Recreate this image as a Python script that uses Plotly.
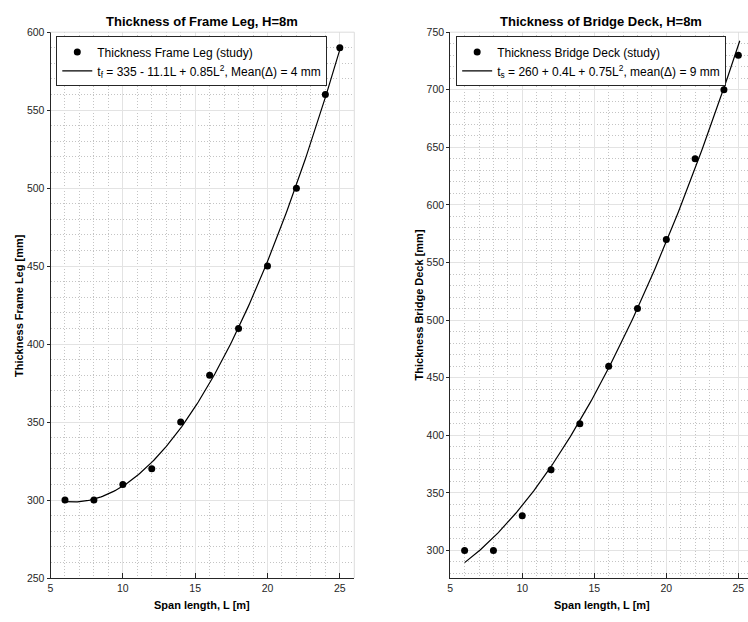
import numpy as np
import plotly.graph_objects as go

# Study results: span length vs. member thickness (H = 8 m)
span_L = [6, 8, 10, 12, 14, 16, 18, 20, 22, 24, 25]
leg_thickness = [300, 300, 310, 320, 350, 380, 410, 450, 500, 560, 590]
deck_thickness = [300, 300, 330, 370, 410, 460, 510, 570, 640, 700, 730]

# Quadratic fits t = c0 + c1*L + c2*L^2
leg_coef = [335, -11.1, 0.85]
deck_coef = [260, 0.4, 0.75]
fit_span = [6, 25.1]

leg_name_pts = "Thickness Frame Leg (study)"
leg_name_fit = "t<sub>f</sub> = 335 - 11.1L + 0.85L<sup>2</sup>, Mean(\u0394) = 4 mm"
deck_name_pts = "Thickness Bridge Deck (study)"
deck_name_fit = "t<sub>s</sub> = 260 + 0.4L + 0.75L<sup>2</sup>, mean(\u0394) = 9 mm"

W, H = 748, 622
FONT = "Liberation Sans, Arial, Helvetica, sans-serif"
AX = "#262626"


def px_x(p):
    return p / W


def px_y(p):
    return (H - p) / H


def fit_curve(coef):
    L = np.linspace(fit_span[0], fit_span[1], 200)
    return L, coef[0] + coef[1] * L + coef[2] * L ** 2


fig = go.Figure()

L1, t1 = fit_curve(leg_coef)
fig.add_trace(go.Scatter(x=span_L, y=leg_thickness, mode="markers", name=leg_name_pts,
                         marker=dict(color="black", size=7), xaxis="x", yaxis="y", legend="legend"))
fig.add_trace(go.Scatter(x=L1, y=t1, mode="lines", name=leg_name_fit,
                         line=dict(color="black", width=1.2), xaxis="x", yaxis="y", legend="legend"))

L2, t2 = fit_curve(deck_coef)
fig.add_trace(go.Scatter(x=span_L, y=deck_thickness, mode="markers", name=deck_name_pts,
                         marker=dict(color="black", size=7), xaxis="x2", yaxis="y2", legend="legend2"))
fig.add_trace(go.Scatter(x=L2, y=t2, mode="lines", name=deck_name_fit,
                         line=dict(color="black", width=1.2), xaxis="x2", yaxis="y2", legend="legend2"))

ydom = [px_y(583.3), px_y(26.7)]
x1dom = [px_x(47.7), px_x(352.7)]
x2dom = [px_x(449.0), 1.0]

minor_grid = dict(showgrid=True, gridcolor="#c4c4c4", griddash="1px,2px", gridwidth=1, ticks="")


def xaxis(dom, rng, anchor):
    return dict(domain=dom, range=rng, anchor=anchor, dtick=5, tick0=5,
                showline=True, linecolor=AX, linewidth=1, ticks="inside", ticklen=5,
                tickcolor=AX, showgrid=True, gridcolor="#e3e3e3", gridwidth=1,
                minor=dict(dtick=1, tick0=0, **minor_grid), zeroline=False,
                tickfont=dict(family=FONT, size=10.5, color=AX))


def yaxis(rng, anchor):
    return dict(domain=ydom, range=rng, anchor=anchor, dtick=50, tick0=0,
                showline=True, linecolor=AX, linewidth=1, ticks="outside", ticklen=3,
                tickcolor=AX, showgrid=True, gridcolor="#e3e3e3", gridwidth=1,
                minor=dict(dtick=10, tick0=0, **minor_grid), zeroline=False,
                tickfont=dict(family=FONT, size=10.5, color=AX))


legend_common = dict(bgcolor="white", bordercolor=AX, borderwidth=1,
                     font=dict(family=FONT, size=12, color="black"),
                     xanchor="left", yanchor="top", tracegroupgap=0,
                     itemsizing="trace")

fig.update_layout(
    width=W, height=H, margin=dict(l=0, r=0, t=0, b=0),
    paper_bgcolor="white", plot_bgcolor="white",
    font=dict(family=FONT, color="black"),
    xaxis=xaxis(x1dom, [5, 26], "y"),
    yaxis=yaxis([250, 600], "x"),
    xaxis2=xaxis(x2dom, [5, 5 + (748 - 449.0) / 14.465], "y2"),
    yaxis2=yaxis([276, 750], "x2"),
    legend=dict(x=px_x(53.5), y=px_y(31), **legend_common),
    legend2=dict(x=px_x(455), y=px_y(31), **legend_common),
    showlegend=True,
)

# Light frame on the top/right sides of each axes box
for xr, yr, right in (("x domain", "y domain", True), ("x2 domain", "y2 domain", False)):
    fig.add_shape(type="line", xref=xr, yref=yr, x0=0, x1=1, y0=1, y1=1,
                  line=dict(color="#dcdcdc", width=1))
    if right:
        fig.add_shape(type="line", xref=xr, yref=yr, x0=1, x1=1, y0=0, y1=1,
                      line=dict(color="#dcdcdc", width=1))

# Titles and axis labels
texts = [
    ("Thickness of Frame Leg, H=8m", 199.5, 15.5, 13, 0),
    ("Thickness of Bridge Deck, H=8m", 600.8, 15.5, 13, 0),
    ("Span length, L [m]", 199.5, 611, 11, 0),
    ("Span length, L [m]", 601, 611, 11, 0),
    ("Thickness Frame Leg [mm]", 16, 305, 11, -90),
    ("Thickness Bridge Deck [mm]", 418, 305, 11, -90),
]
for txt, x, y, size, ang in texts:
    fig.add_annotation(text="<b>" + txt + "</b>", x=px_x(x), y=px_y(y), xref="paper", yref="paper",
                       showarrow=False, xanchor="center", yanchor="middle", textangle=ang,
                       font=dict(family=FONT, size=size, color="black"))

fig.write_html("out.html")
